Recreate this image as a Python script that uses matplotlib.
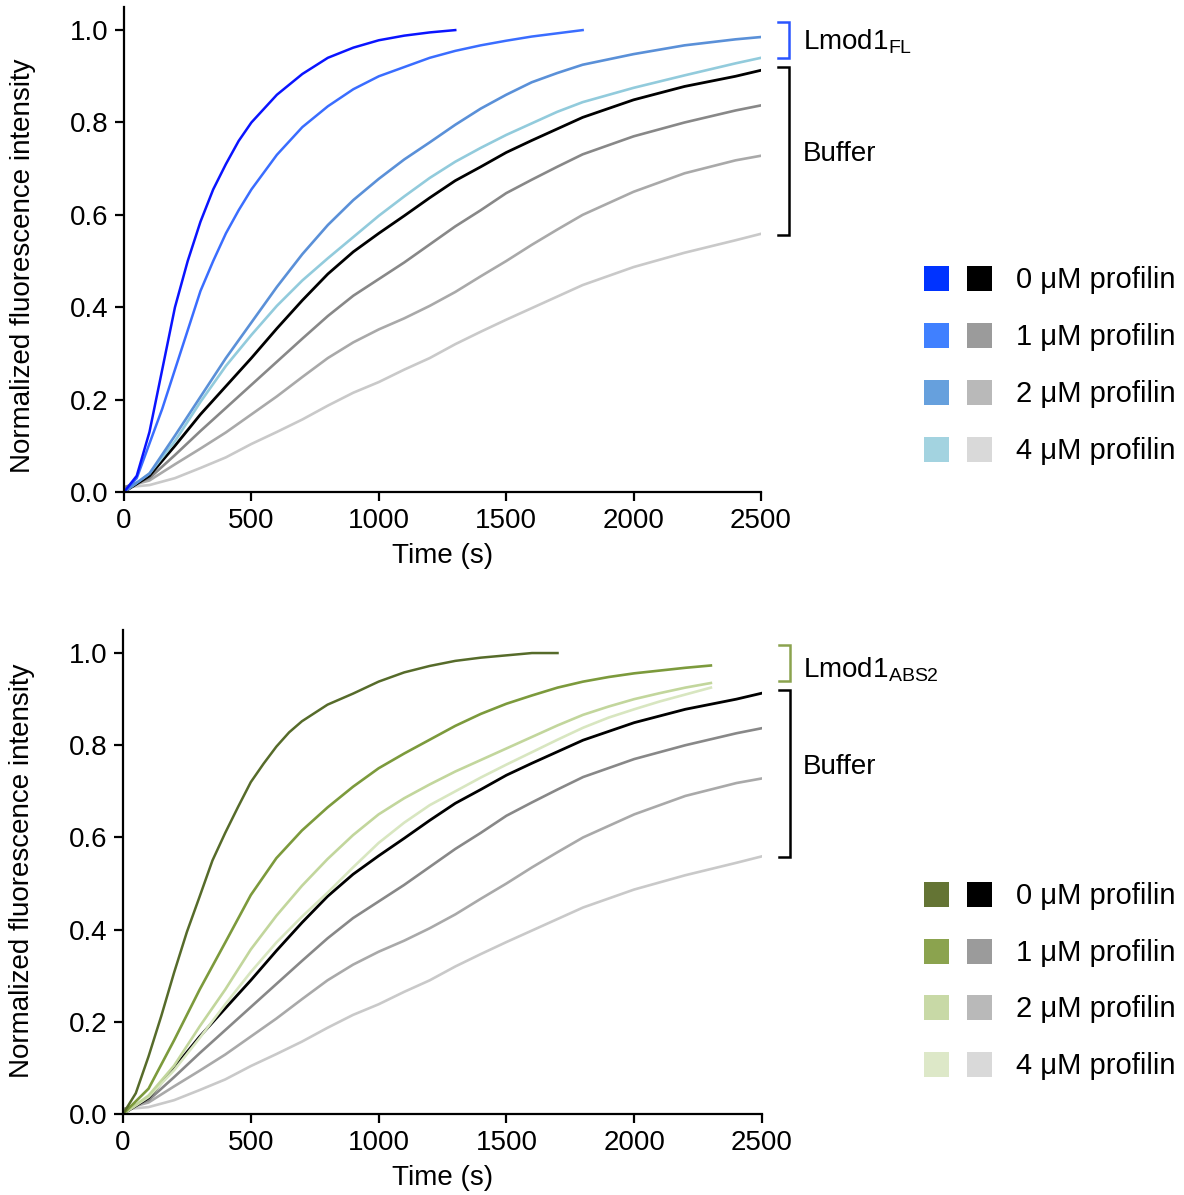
import matplotlib
matplotlib.use('Agg')
import matplotlib.pyplot as plt
from matplotlib.patches import Rectangle

plt.rcParams['font.family'] = ['Liberation Sans', 'DejaVu Sans']
plt.rcParams['mathtext.default'] = 'regular'

# --- data (time in s, normalized intensity) ---
t_buffer = [0, 100, 200, 300, 400, 500, 600, 700, 800, 900, 1000, 1100, 1200,
            1300, 1400, 1500, 1600, 1700, 1800, 2000, 2200, 2400, 2500]
buffer_0 = [0.0, 0.035, 0.10, 0.168, 0.229, 0.29, 0.354, 0.415, 0.472, 0.52, 0.56, 0.598, 0.637,
            0.674, 0.704, 0.735, 0.761, 0.786, 0.811, 0.849, 0.878, 0.90, 0.913]
buffer_1 = [0.01, 0.03, 0.08, 0.132, 0.182, 0.232, 0.282, 0.332, 0.381, 0.425, 0.461, 0.497, 0.536,
            0.575, 0.61, 0.647, 0.676, 0.704, 0.731, 0.77, 0.80, 0.826, 0.837]
buffer_2 = [0.01, 0.025, 0.06, 0.094, 0.129, 0.168, 0.207, 0.249, 0.29, 0.324, 0.352, 0.376, 0.403,
            0.433, 0.467, 0.50, 0.535, 0.568, 0.60, 0.65, 0.69, 0.718, 0.728]
buffer_4 = [0.01, 0.015, 0.03, 0.052, 0.075, 0.104, 0.13, 0.157, 0.187, 0.215, 0.238, 0.265, 0.29,
            0.32, 0.347, 0.373, 0.398, 0.423, 0.448, 0.487, 0.518, 0.545, 0.559]

# Lmod1 FL
t_fl_0 = [0, 50, 100, 150, 200, 250, 300, 350, 400, 450, 500, 600, 700, 800, 900, 1000, 1100, 1200, 1300]
fl_0 = [0.0, 0.035, 0.13, 0.265, 0.40, 0.50, 0.585, 0.655, 0.71, 0.76, 0.80, 0.86, 0.905, 0.94, 0.962,
        0.978, 0.988, 0.995, 1.0]
t_fl_1 = [0, 50, 100, 150, 200, 250, 300, 350, 400, 450, 500, 600, 700, 800, 900, 1000, 1100, 1200,
          1300, 1400, 1500, 1600, 1700, 1800]
fl_1 = [0.0, 0.03, 0.105, 0.18, 0.265, 0.35, 0.435, 0.50, 0.56, 0.61, 0.655, 0.73, 0.79, 0.835, 0.872,
        0.90, 0.92, 0.94, 0.955, 0.967, 0.977, 0.986, 0.993, 1.0]
fl_2 = [0.0, 0.04, 0.122, 0.206, 0.29, 0.367, 0.444, 0.515, 0.578, 0.632, 0.678, 0.72, 0.757,
        0.795, 0.83, 0.86, 0.887, 0.907, 0.925, 0.948, 0.967, 0.98, 0.985]
fl_4 = [0.0, 0.04, 0.11, 0.195, 0.273, 0.34, 0.403, 0.458, 0.506, 0.552, 0.598, 0.64, 0.68,
        0.715, 0.745, 0.773, 0.798, 0.823, 0.844, 0.875, 0.902, 0.928, 0.94]

# Lmod1 ABS2
t_abs_0 = [0, 50, 100, 150, 200, 250, 300, 350, 400, 450, 500, 550, 600, 650, 700, 800, 900, 1000,
           1100, 1200, 1300, 1400, 1500, 1600, 1700]
abs_0 = [0.0, 0.045, 0.125, 0.213, 0.307, 0.395, 0.472, 0.55, 0.61, 0.666, 0.72, 0.76, 0.797, 0.828,
         0.852, 0.888, 0.912, 0.938, 0.958, 0.972, 0.983, 0.99, 0.995, 1.0, 1.0]
t_abs = [0, 100, 200, 300, 400, 500, 600, 700, 800, 900, 1000, 1100, 1200, 1300, 1400, 1500,
         1600, 1700, 1800, 1900, 2000, 2100, 2200, 2300]
abs_1 = [0.0, 0.055, 0.16, 0.27, 0.372, 0.475, 0.555, 0.615, 0.665, 0.71, 0.75, 0.782, 0.812, 0.842,
         0.868, 0.89, 0.908, 0.925, 0.938, 0.948, 0.956, 0.962, 0.968, 0.973]
abs_2 = [0.0, 0.04, 0.105, 0.19, 0.27, 0.357, 0.43, 0.495, 0.553, 0.605, 0.65, 0.685, 0.715, 0.743,
         0.768, 0.793, 0.818, 0.843, 0.866, 0.884, 0.90, 0.913, 0.925, 0.935]
abs_4 = [0.0, 0.037, 0.095, 0.165, 0.238, 0.308, 0.372, 0.428, 0.48, 0.535, 0.588, 0.632, 0.67, 0.70,
         0.73, 0.758, 0.785, 0.812, 0.838, 0.86, 0.878, 0.895, 0.91, 0.925]

profilin_labels = ['0 μM profilin', '1 μM profilin', '2 μM profilin', '4 μM profilin']
gray_legend = ['#000000', '#9b9b9b', '#b9b9b9', '#d9d9d9']
gray_lines = ['#000000', '#888888', '#a9a9a9', '#c9c9c9']
blue_legend = ['#0033ff', '#4080ff', '#66a0dd', '#a3d3e0']
blue_lines = ['#0a14ff', '#3a6dff', '#5a90d8', '#92cbdc']
green_legend = ['#647434', '#8ba34e', '#c8d9a6', '#dde8c8']
green_lines = ['#566b2a', '#7c9a3c', '#c2d69c', '#d8e6c0']

W, H = 1184, 1195
fig = plt.figure(figsize=(W / 100, H / 100), dpi=100)


def px_rect(left, top, right, bottom):
    return [left / W, 1 - bottom / H, (right - left) / W, (bottom - top) / H]


def style_axes(ax, ylab_y):
    for s in ['top', 'right']:
        ax.spines[s].set_visible(False)
    for s in ['left', 'bottom']:
        ax.spines[s].set_linewidth(1.6)
    ax.set_xlim(0, 2500)
    ax.set_ylim(0, 1.05)
    ax.set_xticks([0, 500, 1000, 1500, 2000, 2500])
    ax.set_yticks([0.0, 0.2, 0.4, 0.6, 0.8, 1.0])
    ax.set_yticklabels(['0.0', '0.2', '0.4', '0.6', '0.8', '1.0'])
    ax.tick_params(direction='out', length=6.5, width=1.6, labelsize=20, pad=5)
    ax.set_xlabel('Time (s)', fontsize=20)
    ax.set_ylabel('Normalized fluorescence intensity', fontsize=20)
    ax.xaxis.set_label_coords(0.5, -0.105)
    ax.yaxis.set_label_coords(-0.138, ylab_y)


def bracket(ax, y0, y1, color):
    xs = [2567, 2610, 2610, 2567]
    ys = [y1, y1, y0, y0]
    ax.plot(xs, ys, color=color, lw=1.8, clip_on=False, solid_joinstyle='miter')


def legend(row_centers, colors):
    for i, yc in enumerate(row_centers):
        for x0, c in [(924, colors[i]), (967, gray_legend[i])]:
            fig.add_artist(Rectangle((x0 / W, 1 - (yc + 12.5) / H), 25 / W, 25 / H,
                                     transform=fig.transFigure, color=c, lw=0))
        fig.text(1016 / W, 1 - (yc + 10) / H, profilin_labels[i], fontsize=21, va='baseline')


def draw_buffer(ax):
    for vals, c, lw in zip([buffer_4, buffer_2, buffer_1, buffer_0],
                           gray_lines[::-1], [1.9, 1.9, 1.9, 2.0]):
        ax.plot(t_buffer, vals, color=c, lw=lw)


# top panel
ax1 = fig.add_axes(px_rect(124, 7, 761, 492))
style_axes(ax1, 0.466)
draw_buffer(ax1)
ax1.plot(t_buffer, fl_4, color=blue_lines[3], lw=1.9)
ax1.plot(t_buffer, fl_2, color=blue_lines[2], lw=1.9)
ax1.plot(t_fl_1, fl_1, color=blue_lines[1], lw=1.8)
ax1.plot(t_fl_0, fl_0, color=blue_lines[0], lw=1.8)
bracket(ax1, 0.94, 1.017, '#2a55ff')
bracket(ax1, 0.557, 0.92, '#000000')
fig.text(803 / W, 1 - 50 / H, r'Lmod1$_\mathregular{FL}$', fontsize=20, va='baseline')
fig.text(803 / W, 1 - 161 / H, 'Buffer', fontsize=20, va='baseline')
legend([278, 335, 392, 449], blue_legend)

# bottom panel
ax2 = fig.add_axes(px_rect(123, 630, 762, 1114))
style_axes(ax2, 0.502)
draw_buffer(ax2)
ax2.plot(t_abs, abs_4, color=green_lines[3], lw=1.9)
ax2.plot(t_abs, abs_2, color=green_lines[2], lw=1.9)
ax2.plot(t_abs, abs_1, color=green_lines[1], lw=1.9)
ax2.plot(t_abs_0, abs_0, color=green_lines[0], lw=1.8)
bracket(ax2, 0.94, 1.017, '#8ba34e')
bracket(ax2, 0.557, 0.92, '#000000')
fig.text(803 / W, 1 - 678 / H, r'Lmod1$_\mathregular{ABS2}$', fontsize=20, va='baseline')
fig.text(803 / W, 1 - 774 / H, 'Buffer', fontsize=20, va='baseline')
legend([894, 951, 1007, 1064], green_legend)

fig.savefig('out.png', dpi=100)
